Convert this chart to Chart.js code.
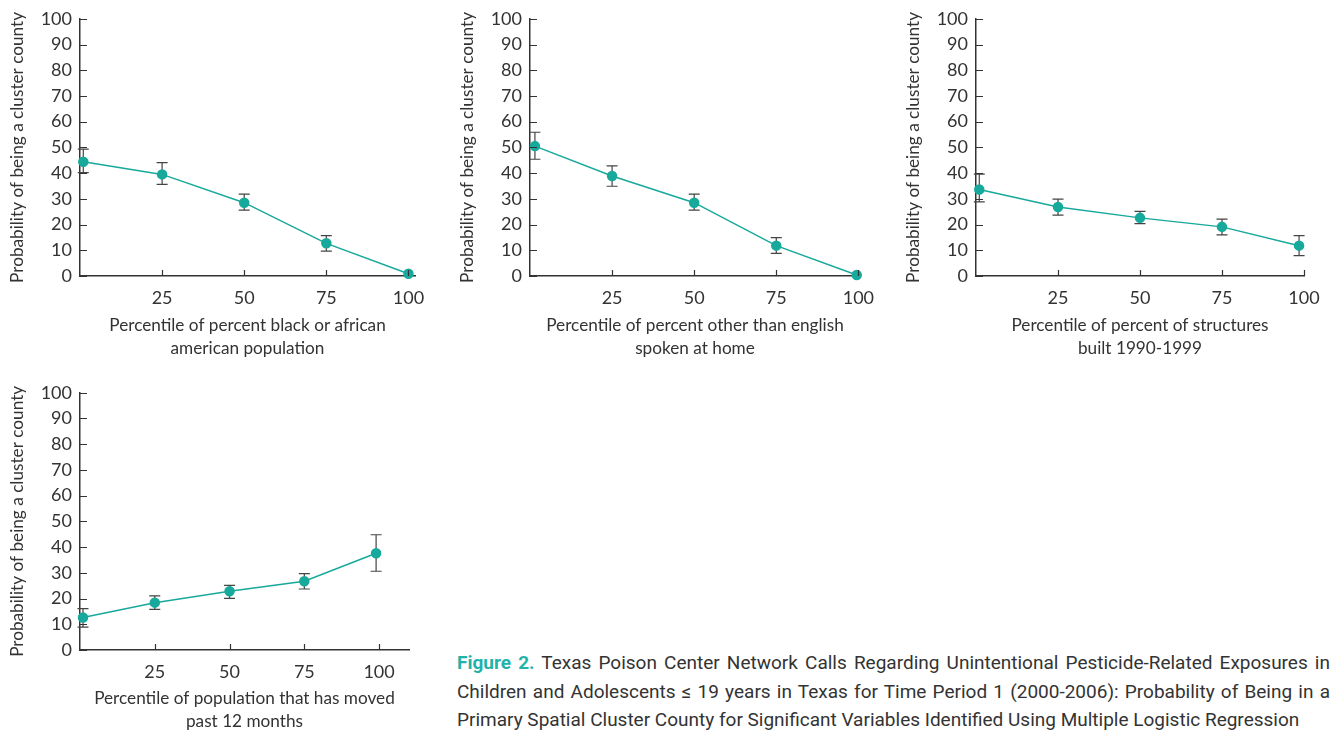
<!DOCTYPE html>
<html>
<head>
<meta charset="utf-8">
<title>Figure 2</title>
<script src="https://cdn.jsdelivr.net/npm/chart.js@4.4.0/dist/chart.umd.min.js"></script>
<style>
  body { margin: 0; background: #fff; width: 1333px; height: 734px; position: relative; overflow: hidden; }
  canvas { position: absolute; }
  #caption {
    position: absolute; left: 457px; top: 649px; width: 873px;
    font-family: Roboto, "Liberation Sans", sans-serif;
    font-size: 19px; line-height: 28.5px; color: #333;
  }
  #caption div { text-align: justify; text-align-last: justify; white-space: nowrap; }
  #caption div.last { text-align-last: left; }
  #caption b { color: #1fb3ab; }
</style>
</head>
<body>
<canvas id="c1" width="440" height="365" style="left:0;top:0"></canvas>
<canvas id="c2" width="440" height="365" style="left:450px;top:0"></canvas>
<canvas id="c3" width="437" height="365" style="left:896px;top:0"></canvas>
<canvas id="c4" width="440" height="364" style="left:0;top:370px"></canvas>

<div id="caption">
  <div><b>Figure 2.</b> Texas Poison Center Network Calls Regarding Unintentional Pesticide-Related Exposures in</div>
  <div>Children and Adolescents ≤ 19 years in Texas for Time Period 1 (2000-2006): Probability of Being in a</div>
  <div class="last">Primary Spatial Cluster County for Significant Variables Identified Using Multiple Logistic Regression</div>
</div>

<script>
// dados
const xTicks = [25, 50, 75, 100];
const yTitle = 'Probability of being a cluster county';

// painel 1: percent black or african american
const blackX = [1, 25, 50, 75, 100];
const blackY = [44.4, 39.5, 28.5, 12.7, 0.9];
const blackLo = [40.2, 35.6, 25.6, 9.7, null];
const blackHi = [49.3, 44.1, 31.8, 15.7, null];

// painel 2: other than english spoken at home
const langX = [1.5, 25, 50, 75, 99.5];
const langY = [50.5, 38.9, 28.5, 11.8, 0.4];
const langLo = [45.4, 34.9, 25.6, 8.8, null];
const langHi = [55.9, 42.8, 31.8, 14.9, null];

// painel 3: structures built 1990-1999
const builtX = [1, 25, 50, 75, 98.5];
const builtY = [33.6, 26.8, 22.6, 19.1, 11.8];
const builtLo = [28.8, 23.7, 20.4, 16.0, 7.9];
const builtHi = [39.6, 29.9, 25.1, 22.1, 15.7];

// painel 4: population moved past 12 months
const movedX = [1, 25, 50, 75, 99];
const movedY = [12.6, 18.4, 22.8, 26.7, 37.6];
const movedLo = [8.9, 15.8, 20.1, 23.7, 30.6];
const movedHi = [16.1, 21.0, 25.1, 29.7, 44.8];

const TEAL = '#17a99b';
const INK = '#333';

Chart.defaults.font.family = 'Lato, "Open Sans", sans-serif';
Chart.defaults.font.size = 18;
Chart.defaults.color = INK;

// barras de erro com "capas" horizontais
const errorBars = {
    id: 'errorBars',
    beforeDatasetsDraw(chart) {
        const { ctx, scales: { x, y } } = chart;
        const pts = chart.data.datasets[0].data;
        ctx.save();
        ctx.strokeStyle = '#444';
        ctx.lineWidth = 1.2;
        pts.forEach(p => {
            if (p.lo == null) return;
            const px = x.getPixelForValue(p.x);
            const yt = y.getPixelForValue(p.hi);
            const yb = y.getPixelForValue(p.lo);
            ctx.beginPath();
            ctx.moveTo(px, yt); ctx.lineTo(px, yb);
            ctx.moveTo(px - 5.5, yt); ctx.lineTo(px + 5.5, yt);
            ctx.moveTo(px - 5.5, yb); ctx.lineTo(px + 5.5, yb);
            ctx.stroke();
        });
        ctx.restore();
    }
};

// marcas dos eixos voltadas para dentro
const inwardTicks = {
    id: 'inwardTicks',
    afterDraw(chart) {
        const { ctx, chartArea, scales: { x, y } } = chart;
        ctx.save();
        ctx.strokeStyle = INK;
        ctx.lineWidth = 1.2;
        ctx.beginPath();
        y.ticks.forEach((t, i) => {
            const py = Math.round(y.getPixelForTick(i)) + 0.5;
            ctx.moveTo(chartArea.left, py);
            ctx.lineTo(chartArea.left + 7, py);
        });
        x.ticks.forEach((t, i) => {
            const px = Math.round(x.getPixelForTick(i)) + 0.5;
            ctx.moveTo(px, chartArea.bottom);
            ctx.lineTo(px, chartArea.bottom - 6);
        });
        ctx.stroke();
        ctx.restore();
    }
};

function makeChart(id, xs, ys, lo, hi, opts) {
    const data = xs.map((v, i) => ({ x: v, y: ys[i], lo: lo[i], hi: hi[i] }));
    return new Chart(document.getElementById(id), {
        type: 'line',
        data: {
            datasets: [{
                data: data,
                borderColor: TEAL,
                backgroundColor: TEAL,
                pointBackgroundColor: TEAL,
                pointBorderColor: TEAL,
                pointRadius: 4.5,
                pointHoverRadius: 4.5,
                borderWidth: 1.5,
                tension: 0,
                clip: false
            }]
        },
        options: {
            responsive: false,
            animation: false,
            events: [],
            layout: {
                padding: { top: opts.top, left: 0, right: opts.right, bottom: 0 }
            },
            plugins: {
                legend: { display: false },
                tooltip: { enabled: false }
            },
            scales: {
                x: {
                    type: 'linear',
                    min: 0,
                    max: opts.xMax,
                    afterBuildTicks: s => { s.ticks = xTicks.map(v => ({ value: v })); },
                    afterFit: s => { s.height = opts.xHeight; },
                    grid: { display: false, drawTicks: false },
                    border: { color: INK, width: 1.5 },
                    ticks: { padding: 11, color: INK },
                    title: {
                        display: true,
                        text: opts.xTitle,
                        color: INK,
                        font: { size: 17.2, lineHeight: 1.33 },
                        padding: { top: 4, bottom: opts.titleBottom }
                    }
                },
                y: {
                    min: 0,
                    max: 100,
                    afterFit: s => { s.width = 80; },
                    grid: { display: false, drawTicks: false },
                    border: { color: INK, width: 1.5 },
                    ticks: { stepSize: 10, padding: 8, color: INK },
                    title: {
                        display: true,
                        text: yTitle,
                        color: INK,
                        font: { size: 17.2, lineHeight: 1.25 },
                        padding: { top: 7, bottom: 0 }
                    }
                }
            }
        },
        plugins: [errorBars, inwardTicks]
    });
}

makeChart('c1', blackX, blackY, blackLo, blackHi, {
    top: 18, right: 25, xMax: 102, xHeight: 89, titleBottom: 5.5,
    xTitle: ['Percentile of percent black or african', 'american population']
});
makeChart('c2', langX, langY, langLo, langHi, {
    top: 18, right: 30, xMax: 100.5, xHeight: 89, titleBottom: 5.5,
    xTitle: ['Percentile of percent other than english', 'spoken at home']
});
makeChart('c3', builtX, builtY, builtLo, builtHi, {
    top: 18, right: 29, xMax: 100, xHeight: 89, titleBottom: 5.5,
    xTitle: ['Percentile of percent of structures', 'built 1990-1999']
});
makeChart('c4', movedX, movedY, movedLo, movedHi, {
    top: 22.7, right: 31, xMax: 110, xHeight: 84, titleBottom: 1,
    xTitle: ['Percentile of population that has moved', 'past 12 months']
});
</script>
</body>
</html>
